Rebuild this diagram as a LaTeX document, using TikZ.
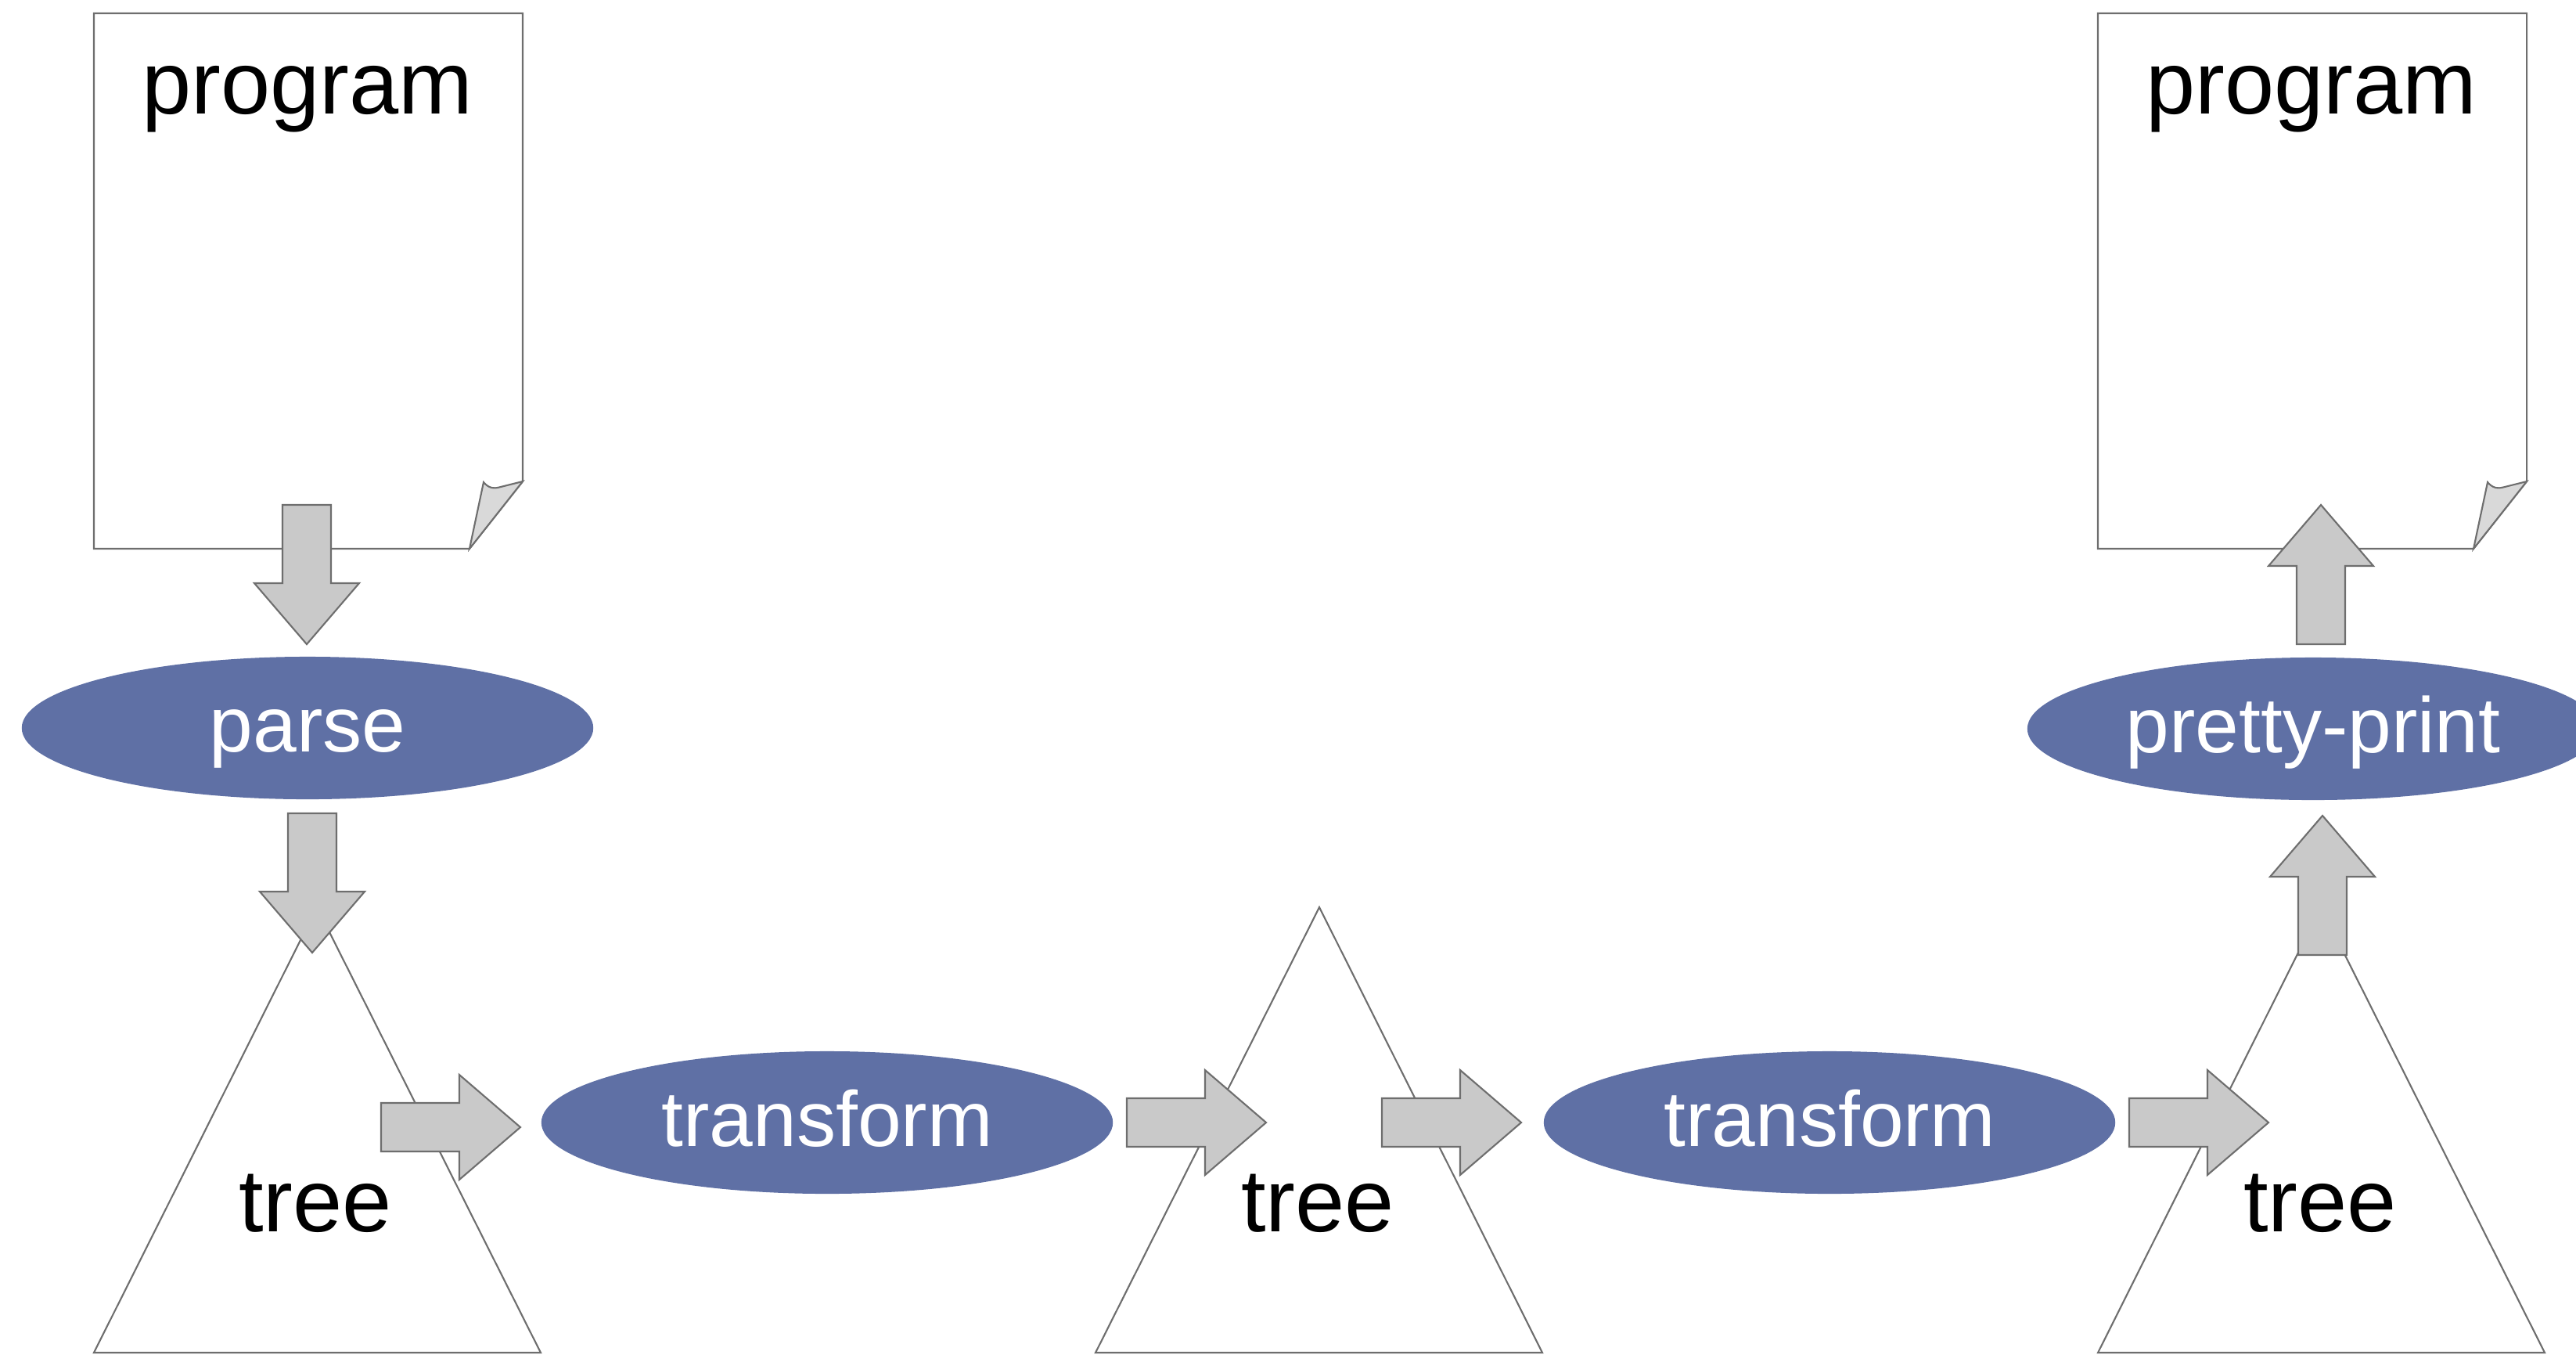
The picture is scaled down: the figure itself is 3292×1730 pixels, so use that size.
\documentclass[tikz,border=0pt]{standalone}
\usepackage{fontspec}
\setmainfont{Liberation Sans}
\usetikzlibrary{shapes.geometric}
\definecolor{ellblue}{HTML}{5F70A5}
\definecolor{arrfill}{HTML}{C9C9C9}
\definecolor{linegray}{HTML}{6E6E6E}
\definecolor{flapfill}{HTML}{D9D9D9}
\begin{document}
\begin{tikzpicture}[x=0.01cm,y=-0.01cm,
  outline/.style={draw=linegray,line width=0.6pt,line join=miter},
  process/.style={ellipse, fill=ellblue, draw=none, minimum width=7.3cm, minimum height=1.82cm,
    inner sep=0pt, text=white, font=\fontsize{28.5}{31}\selectfont, text height=0.85cm, text depth=0.25cm},
  biglabel/.style={anchor=base, inner sep=0pt, font=\fontsize{32.3}{36}\selectfont},
  blockarrow/.pic={\draw[outline, fill=arrfill] (0,-31) -- (100,-31) -- (100,-67) -- (178,0) -- (100,67) -- (100,31) -- (0,31) -- cycle;},
  pagesheet/.pic={
    \draw[outline, fill=white] (0,0) -- (548,0) -- (548,598) -- (480,684) -- (0,684) -- cycle;
    \draw[outline, fill=flapfill] (480,684) -- (498,599) .. controls (504,606) and (510,608) .. (520,605) -- (548,598) -- cycle;}
]
\useasboundingbox (0,0) rectangle (3292,1730);
\clip (0,0) rectangle (3292,1730);

% pages
\coordinate (pg1) at (120,17);
\coordinate (pg2) at (2681,17);
\pic at (pg1) {pagesheet};
\pic at (pg2) {pagesheet};
\node[biglabel] (prog1) at (393,145) {program};
\node[biglabel] (prog2) at (2954,145) {program};

% trees
\coordinate (t1apex) at (405,1159);
\coordinate (t2apex) at (1686,1159);
\coordinate (t3apex) at (2966,1159);
\draw[outline, fill=white] (120,1728) -- (t1apex) -- (691,1728) -- cycle;
\draw[outline, fill=white] (1400,1728) -- (t2apex) -- (1971,1728) -- cycle;
\draw[outline, fill=white] (2681,1728) -- (t3apex) -- (3252,1728) -- cycle;
\node[biglabel] (tree1) at (403,1573) {tree};
\node[biglabel] (tree2) at (1684,1573) {tree};
\node[biglabel] (tree3) at (2965,1573) {tree};

% processes
\node[process] (parse) at (393,930) {parse};
\node[process] (tr1) at (1057,1434) {transform};
\node[process] (tr2) at (2338,1434) {transform};
\node[process] (pp) at (2956,931) {pretty-print};

% block arrows
\coordinate (a1) at (392,645);
\coordinate (a2) at (399,1039);
\coordinate (a3) at (487,1440);
\coordinate (a4) at (1440,1434);
\coordinate (a5) at (1766,1434);
\coordinate (a6) at (2721,1434);
\coordinate (a7) at (2968,1220);
\coordinate (a8) at (2966,823);
\pic[rotate=-90] at (a1) {blockarrow};
\pic[rotate=-90] at (a2) {blockarrow};
\pic at (a3) {blockarrow};
\pic at (a4) {blockarrow};
\pic at (a5) {blockarrow};
\pic at (a6) {blockarrow};
\pic[rotate=90] at (a7) {blockarrow};
\pic[rotate=90] at (a8) {blockarrow};
\end{tikzpicture}
\end{document}
